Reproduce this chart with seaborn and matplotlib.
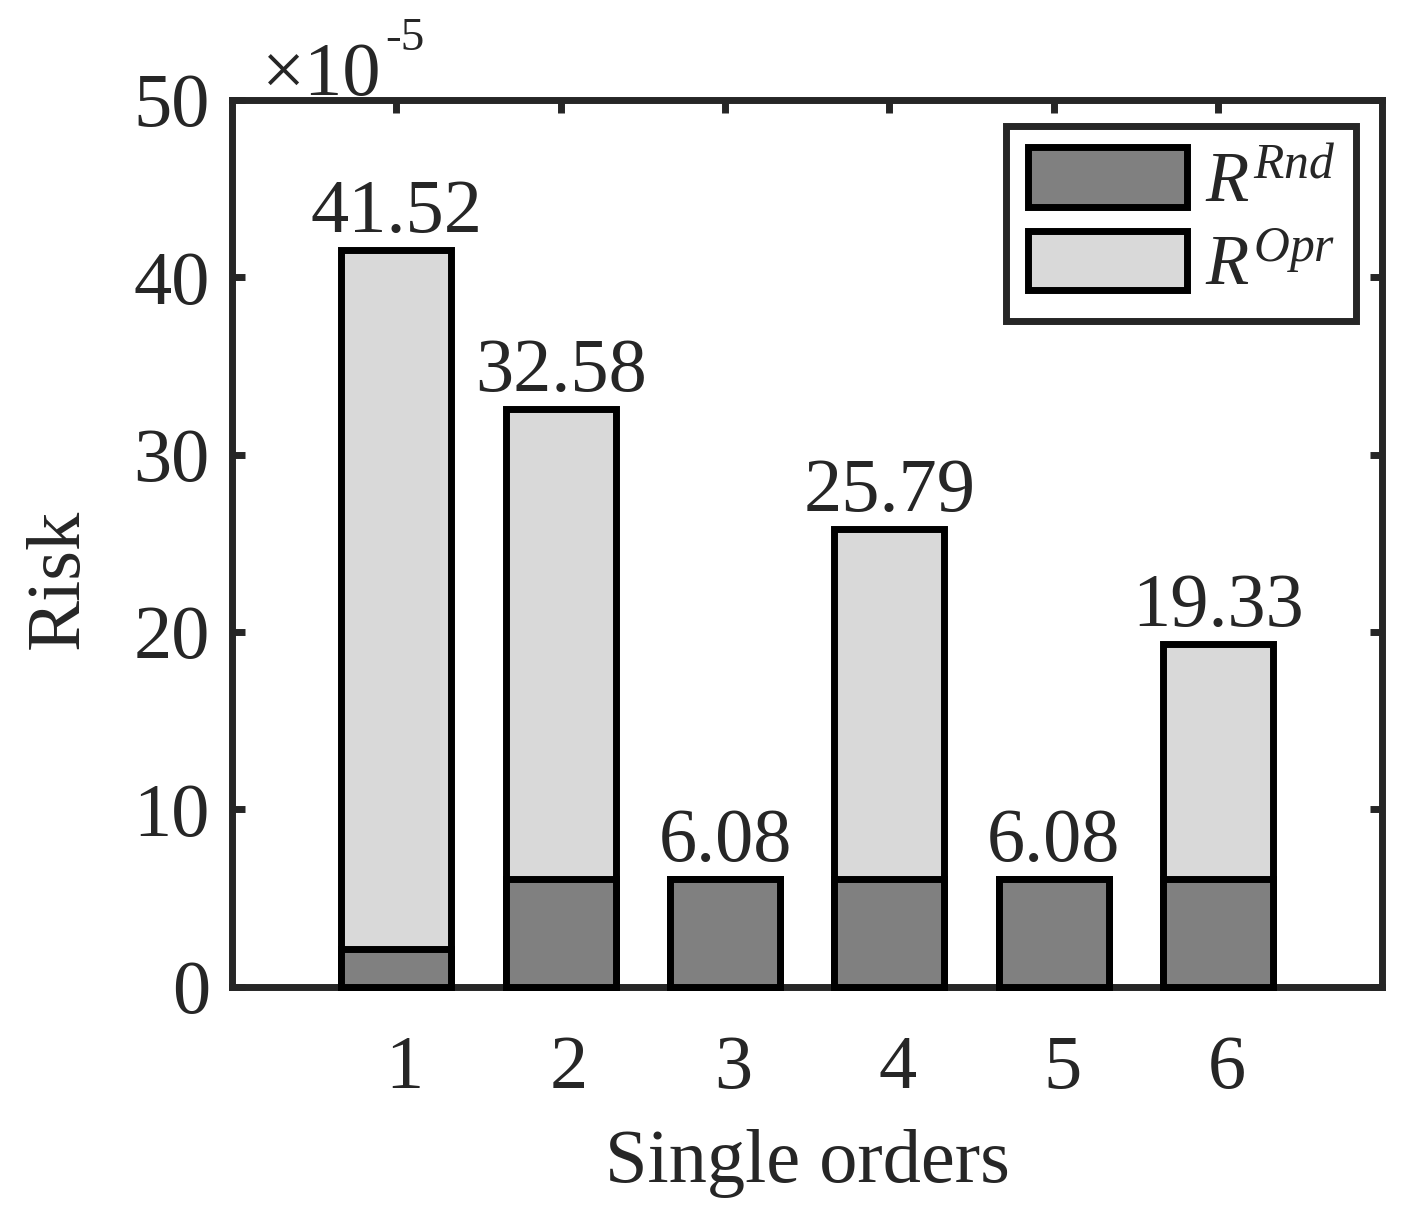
import matplotlib
matplotlib.use("Agg")
import matplotlib.pyplot as plt
import matplotlib.transforms as mtransforms
import seaborn as sns
import pandas as pd

# Data (values in units of 1e-5)
orders = ["1", "2", "3", "4", "5", "6"]
risk_total = [41.52, 32.58, 6.08, 25.79, 6.08, 19.33]
risk_rnd = [2.1, 6.08, 6.08, 6.08, 6.08, 6.08]
total_labels = ["41.52", "32.58", "6.08", "25.79", "6.08", "19.33"]

df = pd.DataFrame({"order": orders, "total": risk_total, "rnd": risk_rnd})

sns.set_style("white")
plt.rcParams['font.family'] = ['Liberation Serif', 'DejaVu Serif']
plt.rcParams['mathtext.fontset'] = 'custom'
plt.rcParams['mathtext.rm'] = 'Liberation Serif'
plt.rcParams['mathtext.it'] = 'Liberation Serif:italic'

txt = '#262626'
fs = 55

fig = plt.figure(figsize=(14.15, 12.18), dpi=100)
ax = fig.add_axes([0.164, 0.190, 0.813, 0.728])

# light (total) bars first, dark (Rnd) bars on top
sns.barplot(data=df, x="order", y="total", order=orders, color="#d9d9d9",
            saturation=1, width=0.67, edgecolor="black", linewidth=5,
            label=r"$R^{Opr}$", ax=ax)
sns.barplot(data=df, x="order", y="rnd", order=orders, color="#808080",
            saturation=1, width=0.67, edgecolor="black", linewidth=5,
            label=r"$R^{Rnd}$", ax=ax)

for p in ax.patches:
    p.set_clip_on(False)
    p.set_zorder(3)

# value labels
for i, (v, lab) in enumerate(zip(risk_total, total_labels)):
    ax.annotate(lab, (i, v), xytext=(0, 13), textcoords="offset points",
                ha="center", va="baseline", fontsize=fs, color=txt)

ax.set_xlim(-1, 6)
ax.set_ylim(0, 50)
ax.set_yticks([0, 10, 20, 30, 40, 50])

for s in ax.spines.values():
    s.set_visible(True)
    s.set_linewidth(5)
    s.set_color(txt)
    s.set_zorder(2)

ax.tick_params(axis="both", direction="in", length=9, width=5, color=txt,
               labelsize=fs, labelcolor=txt, top=True, right=True,
               bottom=True, left=True)
ax.tick_params(axis="x", pad=35)
ax.tick_params(axis="y", pad=16)

# x tick labels sit a little right of the ticks
shift = mtransforms.ScaledTranslation(6 / 72, 0, fig.dpi_scale_trans)
for lab in ax.get_xticklabels():
    lab.set_transform(lab.get_transform() + shift)

ax.set_xlabel("Single orders", fontsize=fs, color=txt, labelpad=18)
ax.set_ylabel("Risk", fontsize=fs, color=txt)
ax.yaxis.set_label_coords(-0.12, 0.46)

# exponent label
ax.text(0.026, 1.0056, "×10", transform=ax.transAxes,
        fontsize=fs, color=txt, ha="left", va="baseline")
ax.text(0.133, 1.056, "-5", transform=ax.transAxes,
        fontsize=34, color=txt, ha="left", va="baseline")

handles, labels = ax.get_legend_handles_labels()
leg = ax.legend(handles[::-1], labels[::-1], loc="upper right", fontsize=51,
                frameon=True, fancybox=False, framealpha=1, handlelength=2.25,
                handleheight=0.92, handletextpad=0.25, borderpad=0.3,
                labelspacing=0.2, borderaxespad=0.37)
leg.get_frame().set_edgecolor(txt)
leg.get_frame().set_linewidth(5)
for h in leg.legend_handles:
    h.set_edgecolor("black")
    h.set_linewidth(5)

fig.savefig("out.png", dpi=100)
